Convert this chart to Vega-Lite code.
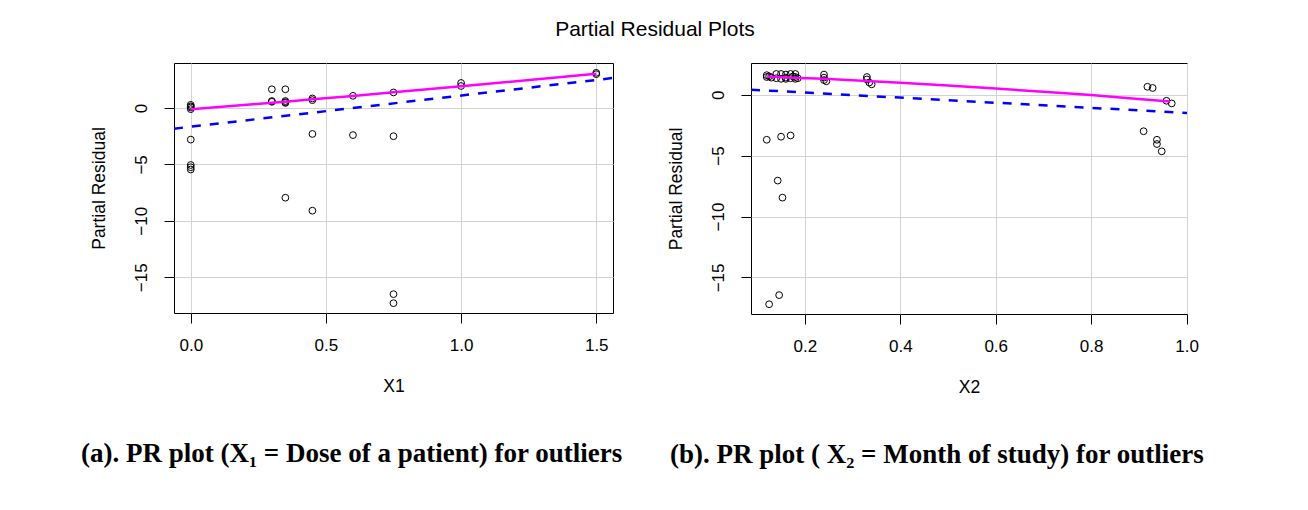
{
  "$schema": "https://vega.github.io/schema/vega-lite/v6.json",
  "background": "white",
  "padding": {"left": 80, "top": 18, "right": 5, "bottom": 5},
  "title": {"text": "Partial Residual Plots", "font": "Liberation Sans", "fontSize": 21, "fontWeight": "normal", "color": "black", "anchor": "middle", "offset": 22, "dx": 9, "dy": -1},
  "spacing": 42,
  "datasets": {
    "p1": [
      {"x": 0, "y": 0.28}, {"x": 0, "y": 0.15}, {"x": 0, "y": 0.05}, {"x": 0, "y": -0.1},
      {"x": 0, "y": -2.8}, {"x": 0, "y": -5.05}, {"x": 0, "y": -5.25}, {"x": 0, "y": -5.45},
      {"x": 0.3, "y": 1.66}, {"x": 0.3, "y": 0.62}, {"x": 0.3, "y": 0.55},
      {"x": 0.35, "y": 1.66}, {"x": 0.35, "y": 0.62}, {"x": 0.35, "y": 0.52}, {"x": 0.35, "y": 0.45}, {"x": 0.35, "y": -7.95},
      {"x": 0.45, "y": 0.85}, {"x": 0.45, "y": 0.7}, {"x": 0.45, "y": -2.3}, {"x": 0.45, "y": -9.1},
      {"x": 0.6, "y": 1.08}, {"x": 0.6, "y": -2.4},
      {"x": 0.75, "y": 1.38}, {"x": 0.75, "y": -2.5}, {"x": 0.75, "y": -16.5}, {"x": 0.75, "y": -17.3},
      {"x": 1.0, "y": 2.22}, {"x": 1.0, "y": 1.95},
      {"x": 1.5, "y": 3.12}, {"x": 1.5, "y": 3.0}
    ],
    "s1": [
      {"x": 0, "y": -0.12}, {"x": 0.3, "y": 0.47}, {"x": 0.35, "y": 0.56}, {"x": 0.45, "y": 0.77},
      {"x": 0.6, "y": 1.06}, {"x": 0.75, "y": 1.4}, {"x": 1.0, "y": 1.92}, {"x": 1.5, "y": 3.04}
    ],
    "l1": [
      {"x": -0.062, "y": -1.83}, {"x": 1.562, "y": 2.66}
    ],
    "p2": [
      {"x": 0.12, "y": 1.6}, {"x": 0.12, "y": 1.45}, {"x": 0.12, "y": -3.7},
      {"x": 0.125, "y": -17.2}, {"x": 0.125, "y": 1.5}, {"x": 0.13, "y": 1.4},
      {"x": 0.14, "y": 1.7}, {"x": 0.14, "y": 1.35}, {"x": 0.143, "y": -7.05}, {"x": 0.146, "y": -16.45},
      {"x": 0.15, "y": -3.45}, {"x": 0.15, "y": 1.7}, {"x": 0.15, "y": 1.3}, {"x": 0.153, "y": -8.45},
      {"x": 0.16, "y": 1.65}, {"x": 0.16, "y": 1.4}, {"x": 0.16, "y": 1.3},
      {"x": 0.17, "y": -3.35}, {"x": 0.17, "y": 1.7}, {"x": 0.17, "y": 1.35}, {"x": 0.175, "y": 1.5},
      {"x": 0.18, "y": 1.7}, {"x": 0.18, "y": 1.3}, {"x": 0.18, "y": 1.45}, {"x": 0.185, "y": 1.35},
      {"x": 0.24, "y": 1.65}, {"x": 0.24, "y": 1.4}, {"x": 0.24, "y": 1.2}, {"x": 0.245, "y": 1.1},
      {"x": 0.33, "y": 1.45}, {"x": 0.33, "y": 1.25}, {"x": 0.335, "y": 1.0}, {"x": 0.34, "y": 0.85},
      {"x": 0.91, "y": -3.0}, {"x": 0.918, "y": 0.65}, {"x": 0.929, "y": 0.55},
      {"x": 0.938, "y": -3.7}, {"x": 0.938, "y": -4.05}, {"x": 0.948, "y": -4.65},
      {"x": 0.958, "y": -0.5}, {"x": 0.969, "y": -0.72}
    ],
    "s2": [
      {"x": 0.12, "y": 1.5}, {"x": 0.19, "y": 1.37}, {"x": 0.24, "y": 1.3}, {"x": 0.33, "y": 1.13},
      {"x": 0.4, "y": 0.98}, {"x": 0.5, "y": 0.75}, {"x": 0.6, "y": 0.5}, {"x": 0.7, "y": 0.25},
      {"x": 0.8, "y": -0.03}, {"x": 0.88, "y": -0.3}, {"x": 0.965, "y": -0.55}
    ],
    "l2": [
      {"x": 0.087, "y": 0.41}, {"x": 1.001, "y": -1.5}
    ]
  },
  "config": {
    "view": {"stroke": "black", "strokeWidth": 1},
    "axis": {
      "domain": false, "grid": true, "gridColor": "#d3d3d3", "gridWidth": 1,
      "tickColor": "black", "tickSize": 10, "tickWidth": 1,
      "labelFont": "Liberation Sans", "labelFontSize": 17, "labelColor": "black",
      "titleFont": "Liberation Sans", "titleFontSize": 17.5, "titleFontWeight": "normal", "titleColor": "black"
    },
    "axisX": {"labelPadding": 14, "titlePadding": 24, "labelFlush": false},
    "axisY": {"labelAngle": -90, "labelAlign": "center", "labelBaseline": "bottom", "labelPadding": 14, "titlePadding": 24}
  },
  "hconcat": [
    {
      "width": 439, "height": 250,
      "title": {"text": "(a). PR plot (X₁ = Dose of a patient) for outliers", "orient": "bottom", "anchor": "start", "frame": "group", "dx": -93, "offset": 46, "font": "Liberation Serif", "fontSize": 27, "fontWeight": "bold", "color": "black"},
      "layer": [
        {
          "data": {"name": "p1"},
          "mark": {"type": "point", "shape": "circle", "filled": false, "color": "black", "size": 46, "strokeWidth": 1, "opacity": 1},
          "encoding": {
            "x": {"field": "x", "type": "quantitative", "scale": {"domain": [-0.062, 1.562], "nice": false, "zero": false}, "axis": {"values": [0, 0.5, 1, 1.5], "format": ".1f", "title": "X1"}},
            "y": {"field": "y", "type": "quantitative", "scale": {"domain": [-18.17, 3.99], "nice": false, "zero": false}, "axis": {"values": [-15, -10, -5, 0], "title": "Partial Residual"}}
          }
        },
        {
          "data": {"name": "l1"},
          "mark": {"type": "line", "color": "#0000ff", "strokeDash": [9, 9], "strokeWidth": 2.5, "clip": true},
          "encoding": {
            "x": {"field": "x", "type": "quantitative"},
            "y": {"field": "y", "type": "quantitative"}
          }
        },
        {
          "data": {"name": "s1"},
          "mark": {"type": "line", "color": "#ff00ff", "strokeWidth": 2.5},
          "encoding": {
            "x": {"field": "x", "type": "quantitative"},
            "y": {"field": "y", "type": "quantitative"}
          }
        }
      ]
    },
    {
      "width": 436, "height": 251,
      "title": {"text": "(b). PR plot ( X₂ =  Month of study) for outliers", "orient": "bottom", "anchor": "start", "frame": "group", "dx": -81, "offset": 46, "font": "Liberation Serif", "fontSize": 27, "fontWeight": "bold", "color": "black"},
      "layer": [
        {
          "data": {"name": "p2"},
          "mark": {"type": "point", "shape": "circle", "filled": false, "color": "black", "size": 46, "strokeWidth": 1, "opacity": 1},
          "encoding": {
            "x": {"field": "x", "type": "quantitative", "scale": {"domain": [0.087, 1.001], "nice": false, "zero": false}, "axis": {"values": [0.2, 0.4, 0.6, 0.8, 1.0], "format": ".1f", "title": "X2"}},
            "y": {"field": "y", "type": "quantitative", "scale": {"domain": [-18.0, 2.6], "nice": false, "zero": false}, "axis": {"values": [-15, -10, -5, 0], "title": "Partial Residual"}}
          }
        },
        {
          "data": {"name": "l2"},
          "mark": {"type": "line", "color": "#0000ff", "strokeDash": [9, 9], "strokeWidth": 2.5, "clip": true},
          "encoding": {
            "x": {"field": "x", "type": "quantitative"},
            "y": {"field": "y", "type": "quantitative"}
          }
        },
        {
          "data": {"name": "s2"},
          "mark": {"type": "line", "color": "#ff00ff", "strokeWidth": 2.5},
          "encoding": {
            "x": {"field": "x", "type": "quantitative"},
            "y": {"field": "y", "type": "quantitative"}
          }
        }
      ]
    }
  ]
}
